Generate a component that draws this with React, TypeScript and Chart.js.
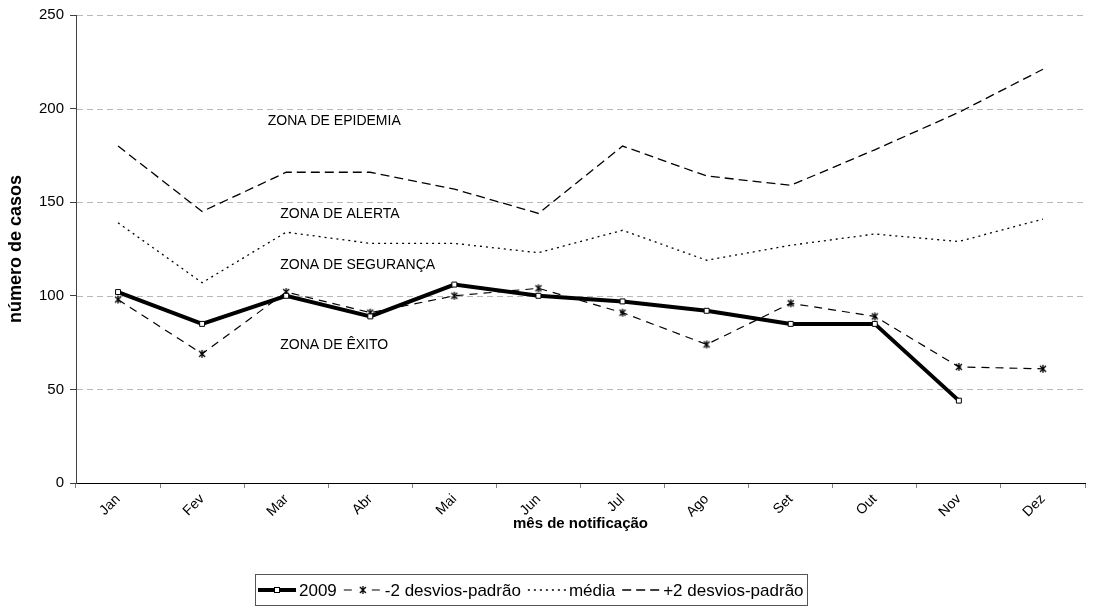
import React, { useEffect, useRef } from "react";
import { Chart, registerables } from "chart.js";

Chart.register(...registerables);

const months = ["Jan", "Fev", "Mar", "Abr", "Mai", "Jun", "Jul", "Ago", "Set", "Out", "Nov", "Dez"];
const cases2009: (number | null)[] = [102, 85, 100, 89, 106, 100, 97, 92, 85, 85, 44, null];
const minus2sd = [98, 69, 102, 91, 100, 104, 91, 74, 96, 89, 62, 61];
const meanValues = [139, 107, 134, 128, 128, 123, 135, 119, 127, 133, 129, 141];
const plus2sd = [180, 145, 166, 166, 157, 144, 180, 164, 159, 178, 198, 221];
const seriesLabels = ["2009", "-2 desvios-padrão", "média", "+2 desvios-padrão"];
const zoneLabels = ["ZONA DE EPIDEMIA", "ZONA DE ALERTA", "ZONA DE SEGURANÇA", "ZONA DE ÊXITO"];
const yTitle = "número de casos";
const xTitle = "mês de notificação";

const FONT = "'Liberation Sans', Arial, Helvetica, sans-serif";

function makeAsterisk(size: number): HTMLCanvasElement {
  const c = document.createElement("canvas");
  c.width = size;
  c.height = size;
  const g = c.getContext("2d")!;
  g.strokeStyle = "#000";
  g.lineWidth = 1.3;
  const m = size / 2;
  const r = size / 2 - 1;
  const d = r * 0.75;
  g.beginPath();
  g.moveTo(m - d, m - d);
  g.lineTo(m + d, m + d);
  g.moveTo(m + d, m - d);
  g.lineTo(m - d, m + d);
  g.moveTo(m, m - r);
  g.lineTo(m, m + r);
  g.stroke();
  return c;
}

const gridAndZones = {
  id: "gridAndZones",
  beforeDatasetsDraw(chart: any) {
    const { ctx, chartArea, scales } = chart;
    const y = scales.y;
    const x = scales.x;
    ctx.save();
    ctx.strokeStyle = "#b8b8b8";
    ctx.lineWidth = 1;
    ctx.setLineDash([6, 4]);
    for (const t of y.ticks) {
      if (t.value === 0) continue;
      const py = Math.round(y.getPixelForValue(t.value)) + 0.5;
      ctx.beginPath();
      ctx.moveTo(chartArea.left + 1, py);
      ctx.lineTo(chartArea.right, py);
      ctx.stroke();
    }
    ctx.setLineDash([]);
    ctx.fillStyle = "#000";
    ctx.font = `14px ${FONT}`;
    ctx.textBaseline = "middle";
    ctx.textAlign = "left";
    const fev = x.getPixelForValue(1);
    const mar = x.getPixelForValue(2);
    const zonePos = [
      { x: fev + (mar - fev) * 0.78, v: 193.5 },
      { x: fev + (mar - fev) * 0.93, v: 143.5 },
      { x: fev + (mar - fev) * 0.93, v: 116.5 },
      { x: fev + (mar - fev) * 0.93, v: 73.5 },
    ];
    zoneLabels.forEach((txt, i) => {
      ctx.fillText(txt, zonePos[i].x, y.getPixelForValue(zonePos[i].v));
    });
    ctx.restore();
  },
};

const boxLegend = {
  id: "boxLegend",
  afterDraw(chart: any) {
    const ctx = chart.ctx;
    const fontSize = 17;
    ctx.save();
    ctx.font = `${fontSize}px ${FONT}`;
    const sampleW = 38;
    const gapS = 3;
    const gapT = 7;
    const padX = 3;
    const dsets = chart.data.datasets;
    const widths = dsets.map((d: any) => ctx.measureText(d.label).width);
    let total = padX * 2;
    widths.forEach((w: number, i: number) => {
      total += sampleW + gapS + w + (i < widths.length - 1 ? gapT : 0);
    });
    const centerX = 530.5;
    const left = Math.round(centerX - total / 2);
    const top = 574;
    const h = 31;
    ctx.strokeStyle = "#555";
    ctx.lineWidth = 1;
    ctx.strokeRect(left + 0.5, top + 0.5, Math.round(total), h);
    const cy = top + h / 2 + 0.5;
    let cx = left + padX;
    dsets.forEach((d: any, i: number) => {
      ctx.save();
      ctx.strokeStyle = d.borderColor;
      ctx.lineWidth = d.borderWidth;
      ctx.setLineDash(d.borderDash || []);
      ctx.beginPath();
      ctx.moveTo(cx, cy);
      ctx.lineTo(cx + sampleW, cy);
      ctx.stroke();
      ctx.setLineDash([]);
      const mx = cx + sampleW / 2;
      if (d.pointStyle === "rect" && d.pointRadius > 0) {
        ctx.fillStyle = "#fff";
        ctx.strokeStyle = "#000";
        ctx.lineWidth = 1;
        ctx.fillRect(mx - 2.5, cy - 2.5, 5, 5);
        ctx.strokeRect(mx - 2.5, cy - 2.5, 5, 5);
      } else if (d.pointStyle instanceof HTMLCanvasElement) {
        const img = d.pointStyle as HTMLCanvasElement;
        ctx.fillStyle = "#fff";
        ctx.fillRect(mx - img.width / 2, cy - img.height / 2, img.width, img.height);
        ctx.drawImage(img, mx - img.width / 2, cy - img.height / 2);
      }
      ctx.restore();
      cx += sampleW + gapS;
      ctx.fillStyle = "#000";
      ctx.textBaseline = "middle";
      ctx.textAlign = "left";
      ctx.fillText(d.label, cx, cy + 1);
      cx += widths[i] + gapT;
    });
    ctx.restore();
  },
};

export default function App() {
  const ref = useRef<HTMLCanvasElement | null>(null);

  useEffect(() => {
    if (!ref.current) return;
    const asterisk = makeAsterisk(10);
    const chart = new Chart(ref.current, {
      type: "line",
      data: {
        labels: months,
        datasets: [
          {
            label: seriesLabels[0],
            data: cases2009,
            borderColor: "#000",
            borderWidth: 4,
            borderDash: [],
            pointStyle: "rect",
            pointRadius: 3.5,
            pointBackgroundColor: "#fff",
            pointBorderColor: "#000",
            pointBorderWidth: 1,
            tension: 0,
            order: 0,
          } as any,
          {
            label: seriesLabels[1],
            data: minus2sd,
            borderColor: "#000",
            borderWidth: 1.2,
            borderDash: [8, 6],
            pointStyle: asterisk,
            pointRadius: 5,
            tension: 0,
            order: 1,
          } as any,
          {
            label: seriesLabels[2],
            data: meanValues,
            borderColor: "#000",
            borderWidth: 1.3,
            borderDash: [2, 4],
            pointRadius: 0,
            tension: 0,
            order: 2,
          } as any,
          {
            label: seriesLabels[3],
            data: plus2sd,
            borderColor: "#000",
            borderWidth: 1.3,
            borderDash: [9, 5],
            pointRadius: 0,
            tension: 0,
            order: 3,
          } as any,
        ],
      },
      options: {
        animation: false,
        responsive: false,
        devicePixelRatio: 1,
        layout: { padding: { top: 12, right: 29, bottom: 45, left: 0 } },
        plugins: {
          legend: { display: false },
          tooltip: { enabled: false },
        },
        scales: {
          x: {
            type: "category",
            offset: true,
            grid: {
              offset: true,
              drawOnChartArea: false,
              drawTicks: true,
              tickLength: 5,
              color: "#808080",
            },
            border: { display: true, color: "#000", width: 1 },
            ticks: {
              color: "#000",
              font: { family: FONT, size: 14 },
              minRotation: 45,
              maxRotation: 45,
              autoSkip: false,
              padding: 3,
            },
            title: {
              display: true,
              text: xTitle,
              color: "#000",
              font: { family: FONT, size: 15, weight: "bold" },
              padding: { top: 0, bottom: 34 },
            },
            afterFit: (s: any) => {
              s.height = 84;
            },
          },
          y: {
            min: 0,
            max: 250,
            grid: {
              drawOnChartArea: false,
              drawTicks: true,
              tickLength: 6,
              color: "#404040",
            },
            border: { display: true, color: "#404040", width: 1 },
            ticks: {
              stepSize: 50,
              color: "#000",
              font: { family: FONT, size: 15 },
              padding: 6,
            },
            title: {
              display: true,
              text: yTitle,
              color: "#000",
              font: { family: FONT, size: 18, weight: "bold" },
              padding: { top: 5, bottom: 0 },
            },
            afterFit: (s: any) => {
              s.width = 76;
            },
          },
        },
      } as any,
      plugins: [gridAndZones, boxLegend],
    });
    return () => chart.destroy();
  }, []);

  return (
    <div style={{ position: "absolute", left: 0, top: 0, width: 1114, height: 612, background: "#fff" }}>
      <canvas ref={ref} width={1114} height={612} style={{ display: "block", width: 1114, height: 612 }} />
    </div>
  );
}
